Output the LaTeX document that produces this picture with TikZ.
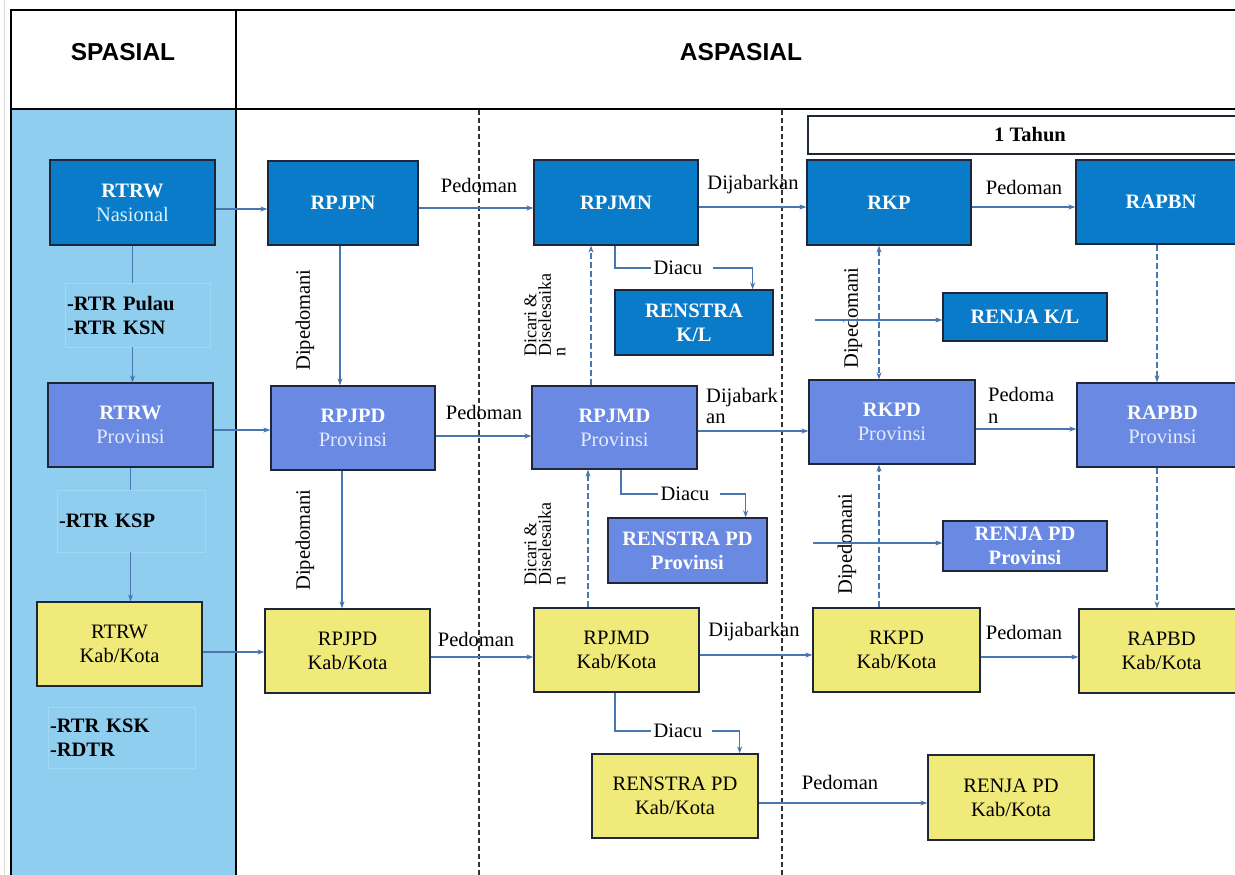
\documentclass[tikz,border=0pt]{standalone}
\usepackage{fontspec}
\setmainfont{Liberation Serif}
\newfontfamily\hdrfont{Liberation Sans}
\usetikzlibrary{arrows.meta}
\definecolor{dkb}{RGB}{10,123,200}
\definecolor{pwb}{RGB}{106,137,226}
\definecolor{ylw}{RGB}{240,234,122}
\definecolor{colb}{RGB}{144,206,240}
\definecolor{cnc}{RGB}{72,118,176}
\definecolor{bordc}{RGB}{30,38,58}
\definecolor{lbord}{RGB}{160,216,246}
\definecolor{ltcy}{RGB}{212,242,255}
\definecolor{ltpw}{RGB}{228,234,255}
\newcommand{\bxfont}{\fontsize{20.5}{24}\selectfont}
\newcommand{\lbfont}{\fontsize{20.5}{22}\selectfont}
\newcommand{\dcfont}{\fontsize{18}{14.5}\selectfont}
\begin{document}
\begin{tikzpicture}[x=1pt,y=-1pt,
  box/.style={draw=bordc, line width=1.3pt, inner sep=0pt, align=center, font=\bxfont},
  dk/.style={box, fill=dkb, text=white},
  pw/.style={box, fill=pwb, text=white},
  yl/.style={box, fill=ylw, text=black},
  sz/.style 2 args={minimum width=#1pt, minimum height=#2pt},
  lbox/.style={draw=lbord, line width=0.8pt, inner xsep=2pt, inner ysep=0pt, align=left, font=\bxfont\bfseries, text=black},
  lab/.style={inner sep=1pt, font=\lbfont, text=black},
  cn/.style={draw=cnc, line width=1.1pt},
  ar/.style={cn, -{Stealth[length=7pt,width=5pt]}},
  dar/.style={cn, dash pattern=on 6pt off 3pt},
  sepl/.style={draw=black!80, line width=1.3pt, dash pattern=on 5pt off 3pt}
]
\clip (0,0) rectangle (1235,875);
\fill[white] (0,0) rectangle (1235,875);
% table
\fill[colb] (11,109) rectangle (235,880);
\draw[black!15, line width=1pt] (4.5,0) -- (4.5,875);
\draw[black, line width=2pt] (10.5,880) -- (10.5,10.5) -- (1245,10.5);
\draw[black, line width=2pt] (236,10.5) -- (236,880);
\draw[black, line width=2pt] (10.5,108.5) -- (1245,108.5);
\node[font=\hdrfont\bfseries\fontsize{24.5}{28}\selectfont] (hsp) at (123,52) {SPASIAL};
\node[font=\hdrfont\bfseries\fontsize{24.5}{28}\selectfont] (hasp) at (741,52) {ASPASIAL};
% separators
\draw[sepl] (479,110) -- (479,875);
\draw[sepl] (782,110) -- (782,875);
% 1 Tahun
\node[box, fill=white, sz={444}{38}, font=\bxfont\bfseries] (tahun) at (1030,135) {1 Tahun};
% row 1
\node[dk, sz={165}{85}] (nat) at (132.5,202.5) {\textbf{RTRW}\\\textcolor{ltcy}{Nasional}};
\node[dk, sz={150}{84}, font=\bxfont\bfseries] (rpjpn) at (343,203) {RPJPN};
\node[dk, sz={164}{85}, font=\bxfont\bfseries] (rpjmn) at (616,202.5) {RPJMN};
\node[dk, sz={164}{85}, font=\bxfont\bfseries] (rkp) at (889,202.5) {RKP};
\node[dk, sz={170}{84}, font=\bxfont\bfseries] (rapbn) at (1161,202) {RAPBN};
\node[dk, sz={158}{65}, font=\bxfont\bfseries] (rkl) at (694,322.5) {RENSTRA\\K/L};
\node[dk, sz={164}{48}, font=\bxfont\bfseries] (rjkl) at (1025,317) {RENJA K/L};
% row 2
\node[pw, sz={165}{84}] (rprov) at (130.5,425) {\textbf{RTRW}\\\textcolor{ltpw}{Provinsi}};
\node[pw, sz={164}{84}] (rpjpdp) at (353,428) {\textbf{RPJPD}\\\textcolor{ltpw}{Provinsi}};
\node[pw, sz={165}{83}] (rpjmdp) at (614.5,427.5) {\textbf{RPJMD}\\\textcolor{ltpw}{Provinsi}};
\node[pw, sz={166}{84}] (rkpdp) at (892,422) {\textbf{RKPD}\\\textcolor{ltpw}{Provinsi}};
\node[pw, sz={171}{84}] (rapbdp) at (1162.5,425) {\textbf{RAPBD}\\\textcolor{ltpw}{Provinsi}};
\node[pw, sz={159}{65}, font=\bxfont\bfseries] (rspp) at (687.5,550.5) {RENSTRA PD\\Provinsi};
\node[pw, sz={164}{50}, font=\bxfont\bfseries] (rjpp) at (1025,546) {RENJA PD\\Provinsi};
% row 3
\node[yl, sz={165}{84}] (rkab) at (119.5,644) {RTRW\\Kab/Kota};
\node[yl, sz={165}{84}] (rpjpdk) at (347.5,651) {RPJPD\\Kab/Kota};
\node[yl, sz={165}{84}] (rpjmdk) at (616.5,650) {RPJMD\\Kab/Kota};
\node[yl, sz={167}{84}] (rkpdk) at (896.5,650) {RKPD\\Kab/Kota};
\node[yl, sz={165}{84}] (rapbdk) at (1161.5,651) {RAPBD\\Kab/Kota};
\node[yl, sz={166}{84}] (rspk) at (675,796) {RENSTRA PD\\Kab/Kota};
\node[yl, sz={166}{85}] (rjpk) at (1011,797.5) {RENJA PD\\Kab/Kota};
% left text boxes
\node[lbox, text width=141pt, minimum height=64pt] (pulau) at (137.5,315) {-RTR Pulau\\-RTR KSN};
\node[lbox, text width=144pt, minimum height=62pt] (ksp) at (131,521) {-RTR KSP};
\node[lbox, text width=143pt, minimum height=61pt] (ksk) at (121.5,737.5) {-RTR KSK\\-RDTR};
% spatial column connectors
\draw[cn] (nat.south) -- (nat.south |- pulau.north);
\draw[ar] (nat.south |- pulau.south) -- (nat.south |- rprov.north);
\draw[cn] (rprov.south) -- (rprov.south |- ksp.north);
\draw[ar] (rprov.south |- ksp.south) -- (rprov.south |- rkab.north);
% horizontal arrows row 1
\draw[ar] ([yshift=-6.5pt]nat.east) -- ([yshift=-6.5pt]nat.east -| rpjpn.west);
\draw[ar] ([yshift=-5pt]rpjpn.east) -- ([yshift=-5pt]rpjpn.east -| rpjmn.west);
\draw[ar] ([yshift=-4.5pt]rpjmn.east) -- ([yshift=-4.5pt]rpjmn.east -| rkp.west);
\draw[ar] ([yshift=-4.5pt]rkp.east) -- ([yshift=-4.5pt]rkp.east -| rapbn.west);
% row 2
\draw[ar] ([yshift=-5pt]rprov.east) -- ([yshift=-5pt]rprov.east -| rpjpdp.west);
\draw[ar] ([yshift=-8pt]rpjpdp.east) -- ([yshift=-8pt]rpjpdp.east -| rpjmdp.west);
\draw[ar] ([yshift=-3.5pt]rpjmdp.east) -- ([yshift=-3.5pt]rpjmdp.east -| rkpdp.west);
\draw[ar] ([yshift=-7pt]rkpdp.east) -- ([yshift=-7pt]rkpdp.east -| rapbdp.west);
% row 3
\draw[ar] ([yshift=-8pt]rkab.east) -- ([yshift=-8pt]rkab.east -| rpjpdk.west);
\draw[ar] ([yshift=-6pt]rpjpdk.east) -- ([yshift=-6pt]rpjpdk.east -| rpjmdk.west);
\draw[ar] ([yshift=-5pt]rpjmdk.east) -- ([yshift=-5pt]rpjmdk.east -| rkpdk.west);
\draw[ar] ([yshift=-7pt]rkpdk.east) -- ([yshift=-7pt]rkpdk.east -| rapbdk.west);
\draw[ar] ([yshift=-7pt]rspk.east) -- ([yshift=-7pt]rspk.east -| rjpk.west);
% horizontal labels
\node[lab] (l1) at (479,185) {Pedoman};
\node[lab] (l2) at (753,185) {Dijabarkan};
\node[lab] (l3) at (1024,187) {Pedoman};
\node[lab] (l4) at (484,412) {Pedoman};
\node[lab, align=left, anchor=west, font=\fontsize{20.5}{21}\selectfont] (l5) at (705,406) {Dijabark\\an};
\node[lab, align=left, anchor=west, font=\fontsize{20.5}{22}\selectfont] (l6) at (987,405) {Pedoma\\n};
\node[lab] (l7) at (476,639) {Pedoman};
\node[lab] (l8) at (754,632) {Dijabarkan};
\node[lab] (l9) at (1024,632) {Pedoman};
\node[lab] (l10) at (840,782) {Pedoman};
% vertical solid
\draw[ar] ([xshift=-3pt]rpjpn.south) -- ([xshift=-3pt]rpjpn.south |- rpjpdp.north);
\draw[ar] ([xshift=-11pt]rpjpdp.south) -- ([xshift=-11pt]rpjpdp.south |- rpjpdk.north);
\node[lab, rotate=90] (dp1) at (305,320) {Dipedomani};
\node[lab, rotate=90] (dp2) at (305,540) {Dipedomani};
% dashed verticals
\draw[dar, -{Stealth[length=7pt,width=5pt]}] ([xshift=-23.5pt]rpjmdp.north) -- ([xshift=-23.5pt]rpjmdp.north |- rpjmn.south);
\draw[dar, -{Stealth[length=7pt,width=5pt]}] ([xshift=-28.5pt]rpjmdk.north) -- ([xshift=-28.5pt]rpjmdk.north |- rpjmdp.south);
\node[lab, rotate=90, align=left, font=\dcfont] (dc1) at (545,315) {Dicari \&\\Diselesaika\\n};
\node[lab, rotate=90, align=left, font=\dcfont] (dc2) at (545,544) {Dicari \&\\Diselesaika\\n};
\draw[dar, {Stealth[length=7pt,width=5pt]}-{Stealth[length=7pt,width=5pt]}] ([xshift=-10pt]rkp.south) -- ([xshift=-10pt]rkp.south |- rkpdp.north);
\draw[dar, -{Stealth[length=7pt,width=5pt]}] ([xshift=-17.5pt]rkpdk.north) -- ([xshift=-17.5pt]rkpdk.north |- rkpdp.south);
\node[lab, rotate=90] (dp3) at (853,318) {Dipedomani};
\node[lab, rotate=90] (dp4) at (847,544) {Dipedomani};
\draw[dar, -{Stealth[length=7pt,width=5pt]}] ([xshift=-4pt]rapbn.south) -- ([xshift=-4pt]rapbn.south |- rapbdp.north);
\draw[dar, -{Stealth[length=7pt,width=5pt]}] ([xshift=-5.5pt]rapbdp.south) -- ([xshift=-5.5pt]rapbdp.south |- rapbdk.north);
% RENJA inputs
\coordinate (s1) at (815,320);
\draw[ar] (s1) -- (s1 -| rjkl.west);
\coordinate (s2) at (813,543);
\draw[ar] (s2) -- (s2 -| rjpp.west);
% Diacu
\node[lab, inner xsep=2pt] (d1) at (678,268) {Diacu};
\node[lab, inner xsep=2pt] (d2) at (685,494) {Diacu};
\node[lab, inner xsep=2pt] (d3) at (678,731) {Diacu};
\draw[cn] ([xshift=-1pt]rpjmn.south) |- (d1.west);
\draw[ar] ([xshift=8pt]d1.east) -| ([xshift=-21pt]rkl.north east);
\draw[cn] ([xshift=6.5pt]rpjmdp.south) |- (d2.west);
\draw[ar] ([xshift=8pt]d2.east) -| ([xshift=-22pt]rspp.north east);
\draw[cn] ([xshift=-1.5pt]rpjmdk.south) |- (d3.west);
\draw[ar] ([xshift=7pt]d3.east) -| ([xshift=-19pt]rspk.north east);
\end{tikzpicture}
\end{document}
